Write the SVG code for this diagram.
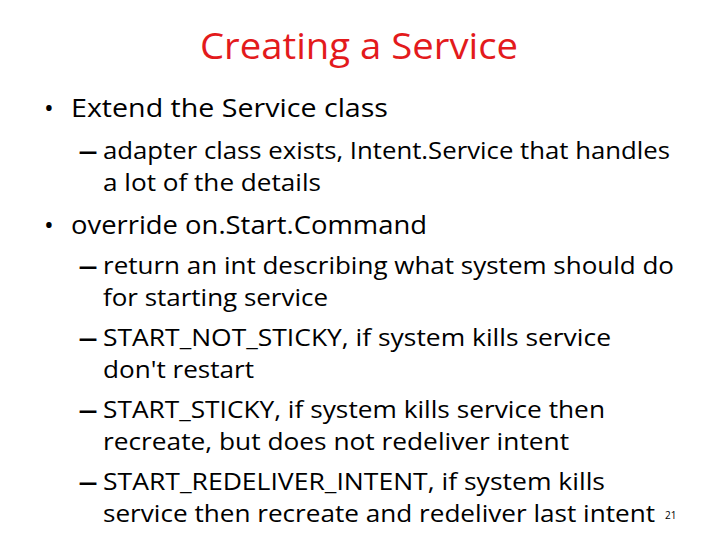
<svg xmlns="http://www.w3.org/2000/svg" width="720" height="540" viewBox="0 0 720 540">
<style>
text{font-family:"Open Sans","Liberation Sans",sans-serif;fill:#000}
.t{font-size:36px;fill:#e31a1c}
.b{font-size:26px}
.s{font-size:24px}
.d{font-size:24px;font-weight:bold}
</style>
<rect width="720" height="540" fill="#fff"/>
<text class="t" x="200" y="59" textLength="318" lengthAdjust="spacingAndGlyphs">Creating a Service</text>
<text class="b" x="44" y="117">•</text>
<text class="b" x="71" y="117" textLength="317" lengthAdjust="spacingAndGlyphs">Extend the Service class</text>
<text class="d" x="78" y="159" textLength="20" lengthAdjust="spacingAndGlyphs">–</text>
<text class="s" x="103" y="159" textLength="567" lengthAdjust="spacingAndGlyphs">adapter class exists, Intent.Service that handles</text>
<text class="s" x="103" y="191" textLength="218" lengthAdjust="spacingAndGlyphs">a lot of the details</text>
<text class="b" x="44" y="234">•</text>
<text class="b" x="71" y="234" textLength="356" lengthAdjust="spacingAndGlyphs">override on.Start.Command</text>
<text class="d" x="78" y="274" textLength="20" lengthAdjust="spacingAndGlyphs">–</text>
<text class="s" x="103" y="274" textLength="571" lengthAdjust="spacingAndGlyphs">return an int describing what system should do</text>
<text class="s" x="103" y="306" textLength="225" lengthAdjust="spacingAndGlyphs">for starting service</text>
<text class="d" x="78" y="346" textLength="20" lengthAdjust="spacingAndGlyphs">–</text>
<text class="s" x="103" y="346" textLength="508" lengthAdjust="spacingAndGlyphs">START_NOT_STICKY, if system kills service</text>
<text class="s" x="103" y="378" textLength="151" lengthAdjust="spacingAndGlyphs">don't restart</text>
<text class="d" x="78" y="418" textLength="20" lengthAdjust="spacingAndGlyphs">–</text>
<text class="s" x="103" y="418" textLength="502" lengthAdjust="spacingAndGlyphs">START_STICKY, if system kills service then</text>
<text class="s" x="103" y="450" textLength="466" lengthAdjust="spacingAndGlyphs">recreate, but does not redeliver intent</text>
<text class="d" x="78" y="490" textLength="20" lengthAdjust="spacingAndGlyphs">–</text>
<text class="s" x="103" y="490" textLength="502" lengthAdjust="spacingAndGlyphs">START_REDELIVER_INTENT, if system kills</text>
<text class="s" x="103" y="522" textLength="552" lengthAdjust="spacingAndGlyphs">service then recreate and redeliver last intent</text>
<text x="665" y="519" style="font-size:10px">21</text>
</svg>
